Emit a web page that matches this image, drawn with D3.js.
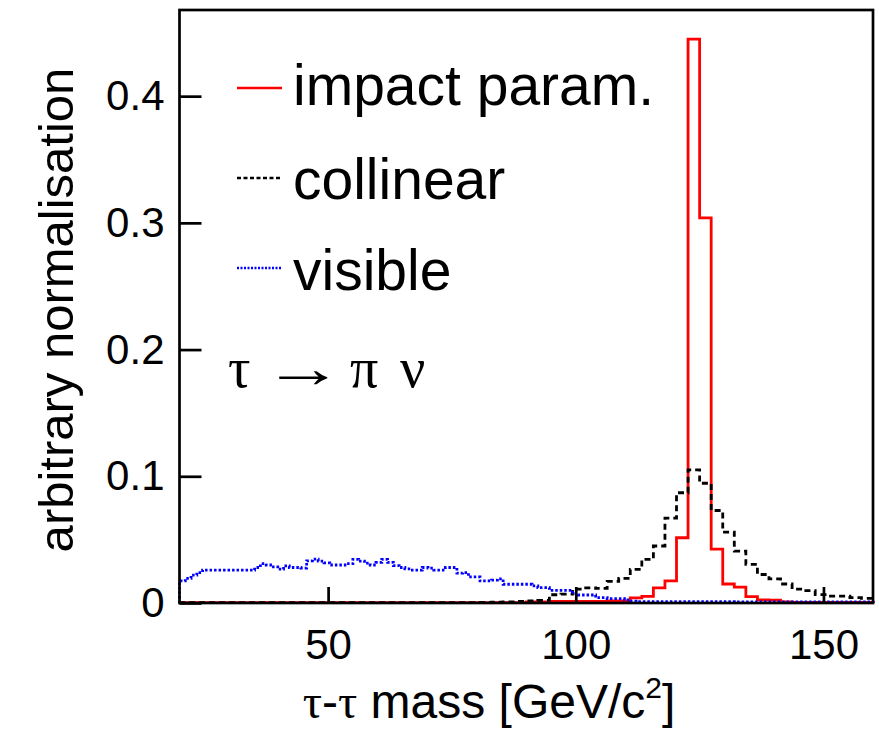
<!DOCTYPE html>
<html><head><meta charset="utf-8">
<script src="https://cdn.jsdelivr.net/npm/d3@7"></script>
<style>body{margin:0;background:#fff}svg{display:block}</style>
</head><body><svg id="c" width="879" height="731"></svg>
<script>
// ---- data ----
const xDomain = [20, 160];
const yDomain = [0, 0.468];
// 60 bins of 7/3 GeV from 20 to 160
const impact = [
 0.0003,0.0003,0.0003,0.0003,0.0003,0.0003,0.0003,0.0003,0.0003,0.0003,
 0.0003,0.0003,0.0003,0.0003,0.0003,0.0003,0.0003,0.0003,0.0003,0.0003,
 0.0003,0.0003,0.0003,0.0003,0.0003,0.0003,0.0003,0.0003,0.0003,0.0003,
 0.0008,0.0008,0.0012,0.0012,0.0012,0.0012,0.0012,0.0017,0.0017,0.0040,
 0.0053,0.0120,0.0175,0.0515,0.4450,0.3040,0.0425,0.0150,0.0125,0.0050,
 0.0025,0.0022,0.0008,0.0005,0.0005,0.0005,0.0005,0.0005,0.0005,0.0005
];
const collinear = [
 0.0003,0.0003,0.0003,0.0003,0.0003,0.0003,0.0003,0.0003,0.0003,0.0003,
 0.0003,0.0003,0.0003,0.0003,0.0003,0.0003,0.0003,0.0003,0.0003,0.0003,
 0.0003,0.0003,0.0003,0.0003,0.0003,0.0003,0.0004,0.0006,0.0008,0.0012,
 0.0016,0.0020,0.0065,0.0070,0.0110,0.0120,0.0115,0.0170,0.0195,0.0265,
 0.0345,0.0450,0.0670,0.0870,0.1050,0.0945,0.0730,0.0560,0.0410,0.0305,
 0.0225,0.0190,0.0150,0.0110,0.0097,0.0066,0.0055,0.0055,0.0042,0.0037
];
// 120 bins of 7/6 GeV from 20 to 160
const visible = [
 0.0174,0.0195,0.0220,0.0240,0.0260,0.0260,0.0260,0.0260,0.0260,0.0260,
 0.0260,0.0260,0.0260,0.0280,0.0310,0.0300,0.0285,0.0267,0.0293,0.0280,
 0.0280,0.0275,0.0333,0.0346,0.0330,0.0317,0.0300,0.0300,0.0300,0.0310,
 0.0344,0.0330,0.0315,0.0300,0.0320,0.0344,0.0320,0.0295,0.0280,0.0270,
 0.0260,0.0260,0.0280,0.0275,0.0260,0.0260,0.0280,0.0280,0.0235,0.0240,
 0.0206,0.0206,0.0174,0.0174,0.0180,0.0190,0.0148,0.0148,0.0148,0.0148,
 0.0148,0.0135,0.0121,0.0121,0.0100,0.0100,0.0100,0.0100,0.0074,0.0063,
 0.0063,0.0063,0.0042,0.0042,0.0034,0.0034,0.0034,0.0025,0.0015,0.0010,
 0.0010,0.0010,0.0010,0.0010,0.0010,0.0010,0.0010,0.0010,0.0010,0.0010,
 0.0010,0.0010,0.0010,0.0010,0.0010,0.0010,0.0008,0.0008,0.0008,0.0008,
 0.0008,0.0008,0.0008,0.0008,0.0008,0.0008,0.0008,0.0008,0.0008,0.0008,
 0.0008,0.0008,0.0008,0.0008,0.0008,0.0008,0.0008,0.0008,0.0008,0.0008
];
const xTicks = [50, 100, 150];
const yTicks = [0, 0.1, 0.2, 0.3, 0.4];
const yTickLabels = ["0", "0.1", "0.2", "0.3", "0.4"];
const legendLabels = ["impact param.", "collinear", "visible"];
const seriesColors = ["#ff0000", "#000000", "#0000ff"];

// ---- drawing ----
const svg = d3.select("#c");
const L = 179.5, R = 873, T = 10, B = 603;
const x = d3.scaleLinear().domain(xDomain).range([L, R]);
const y = d3.scaleLinear().domain(yDomain).range([B, T]);
const sans = "'Liberation Sans', Arial, Helvetica, sans-serif";
const serif = "'Liberation Serif', 'Times New Roman', serif";

function stepPoints(vals) {
  const w = (xDomain[1] - xDomain[0]) / vals.length;
  const pts = [[xDomain[0], 0]];
  vals.forEach((v, i) => pts.push([xDomain[0] + i * w, v]));
  pts.push([xDomain[1], vals[vals.length - 1]]);
  pts.push([xDomain[1], 0]);
  return pts;
}
const line = d3.line().x(d => x(d[0])).y(d => y(d[1])).curve(d3.curveStepAfter);

const styles = [
  {data: impact, color: seriesColors[0], dash: null, w: 2.8},
  {data: collinear, color: seriesColors[1], dash: "6,4", w: 2.8},
  {data: visible, color: seriesColors[2], dash: "2.5,2", w: 2.8}
];
const g = svg.append("g");
styles.forEach(s => {
  g.append("path").attr("d", line(stepPoints(s.data)))
    .attr("fill", "none").attr("stroke", s.color)
    .attr("stroke-width", s.w)
    .attr("stroke-dasharray", s.dash);
});

// frame
svg.append("rect").attr("x", L).attr("y", T).attr("width", R - L).attr("height", B - T)
  .attr("fill", "none").attr("stroke", "#000").attr("stroke-width", 2.7);

// y axis
const yAx = svg.append("g").attr("transform", `translate(${L},0)`)
  .call(d3.axisLeft(y).tickValues(yTicks).tickFormat((d, i) => yTickLabels[i])
    .tickSizeInner(-22).tickSizeOuter(0).tickPadding(15));
yAx.select(".domain").remove();
yAx.selectAll("line").attr("stroke", "#000").attr("stroke-width", 2.7);
yAx.selectAll("text").attr("font-family", sans).attr("font-size", 42).attr("fill", "#000");

// x axis
const xAx = svg.append("g").attr("transform", `translate(0,${B})`)
  .call(d3.axisBottom(x).tickValues(xTicks).tickFormat(d3.format("d"))
    .tickSizeInner(-16).tickSizeOuter(0).tickPadding(26));
xAx.select(".domain").remove();
xAx.selectAll("line").attr("stroke", "#000").attr("stroke-width", 2.7);
xAx.selectAll("text").attr("font-family", sans).attr("font-size", 42).attr("fill", "#000");

// axis titles
const xt = svg.append("text").attr("x", 489).attr("y", 718).attr("text-anchor", "middle")
  .attr("font-family", sans).attr("font-size", 48).attr("fill", "#000");
xt.append("tspan").attr("font-family", serif).text("τ");
xt.append("tspan").text("-");
xt.append("tspan").attr("font-family", serif).text("τ");
xt.append("tspan").text(" mass [GeV/c");
xt.append("tspan").attr("font-size", 30).attr("dy", -20).text("2");
xt.append("tspan").attr("dy", 20).text("]");

svg.append("text").attr("transform", "translate(73,310) rotate(-90)")
  .attr("text-anchor", "middle").attr("font-family", sans).attr("font-size", 49)
  .attr("fill", "#000").text("arbitrary normalisation");

// legend
const legY = [88, 178, 268], legBase = [105, 199, 290];
styles.forEach((s, i) => {
  svg.append("line").attr("x1", 237).attr("x2", 282).attr("y1", legY[i]).attr("y2", legY[i])
    .attr("stroke", s.color).attr("stroke-width", 2.4)
    .attr("stroke-dasharray", i === 0 ? null : (i === 1 ? "4,2.5" : "2,1.5"));
  svg.append("text").attr("x", 293).attr("y", legBase[i]).attr("font-family", sans)
    .attr("font-size", 57).attr("fill", "#000").text(legendLabels[i]);
});

// decay label
const decay = [["τ", 228, 1], ["→", 263, 1.45], ["π", 350, 1], ["ν", 400, 1]];
decay.forEach(d => {
  svg.append("text").attr("transform", `translate(${d[1]},387) scale(${d[2]},1)`)
    .attr("font-family", serif).attr("font-size", 56).attr("fill", "#000").text(d[0]);
});
</script>
</body></html>
